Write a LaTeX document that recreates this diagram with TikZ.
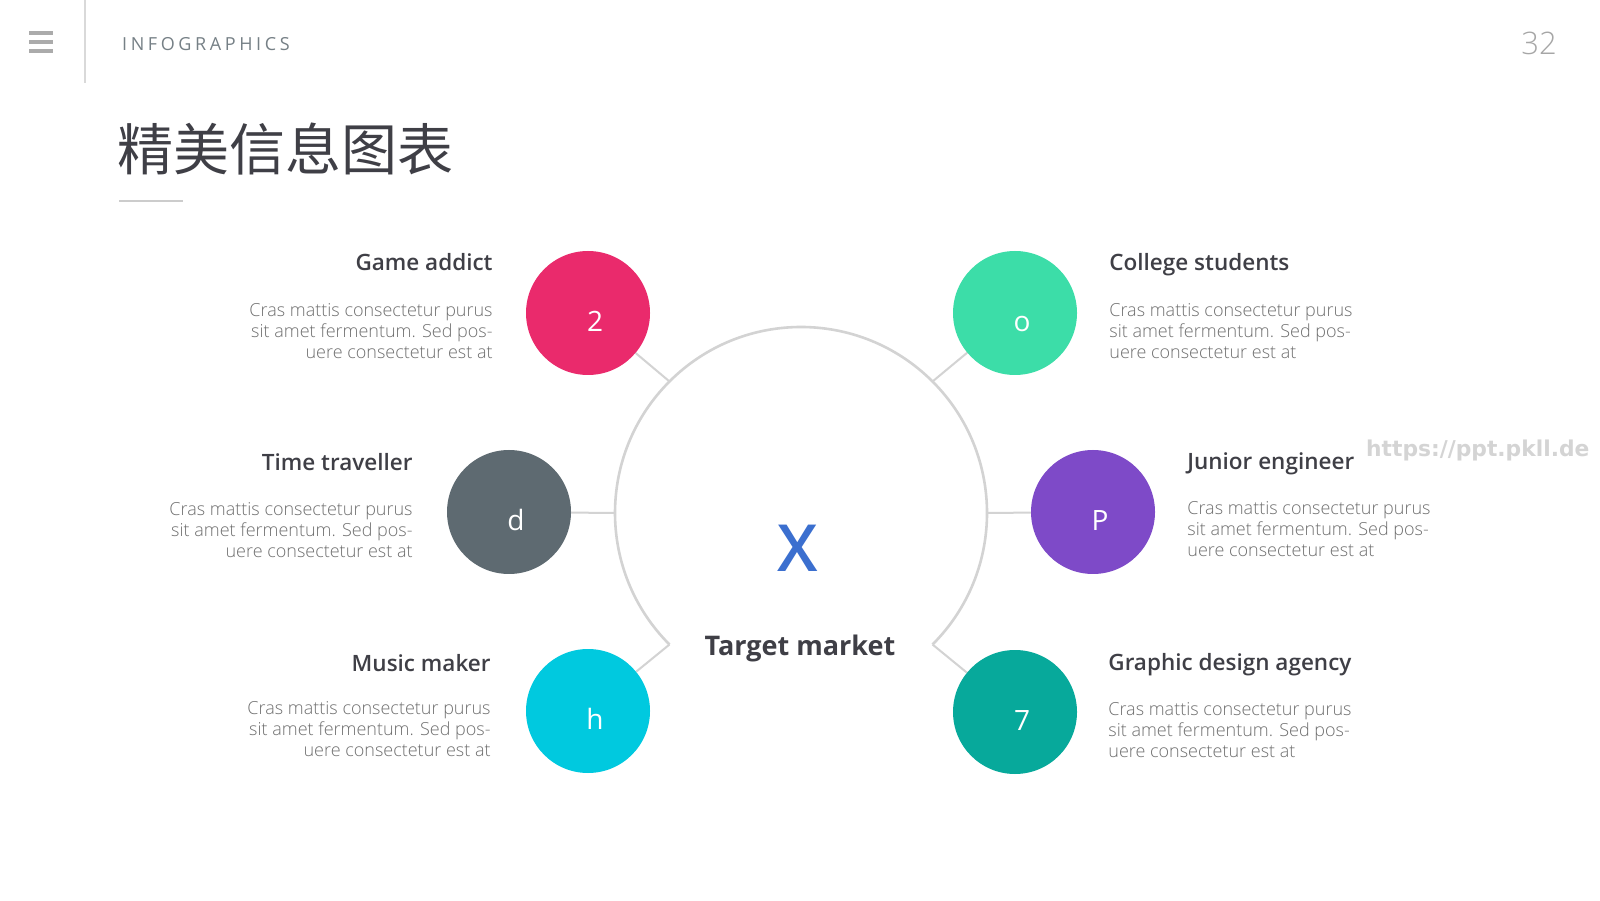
\documentclass[tikz,border=0pt]{standalone}
\usepackage{fontspec}
\setmainfont{Open Sans}
\newfontfamily\headfont{Open Sans Semibold}
\newfontfamily\lightfont{Open Sans Light}
\newfontfamily\cjkfont{Noto Sans CJK SC}
\newfontfamily\markfont{DejaVu Sans}
\usetikzlibrary{positioning, calc}
\definecolor{pinkc}{RGB}{234,42,108}
\definecolor{slatec}{RGB}{94,106,113}
\definecolor{cyanc}{RGB}{0,201,223}
\definecolor{mintc}{RGB}{60,221,168}
\definecolor{violetc}{RGB}{126,74,200}
\definecolor{tealc}{RGB}{7,169,155}
\definecolor{bluec}{RGB}{59,111,207}
\definecolor{ink}{RGB}{63,63,70}
\definecolor{muted}{RGB}{112,112,112}
\definecolor{lineg}{RGB}{211,211,211}

\begin{document}
\begin{tikzpicture}[
      x=1pt, y=1pt,
      dot/.style={circle, minimum size=124pt, inner sep=0pt, draw=none},
      num/.style={text=white, inner sep=0pt, font=\fontsize{28}{28}\selectfont,
                  text height=20pt, text depth=0pt, xshift=7pt, yshift=-8.5pt},
      head/.style={inner sep=0pt, text=ink, font=\headfont\fontsize{22.5}{26}\selectfont},
      blurb/.style={inner sep=0pt, text=muted, font=\lightfont\fontsize{18}{20.8}\selectfont},
      link/.style={draw=lineg, line width=2pt},
      ring/.style={draw=lineg, line width=2.6pt}
    ]
    \useasboundingbox (0,0) rectangle (1600,900);
    \fill[white] (0,0) rectangle (1600,900);

    % header
    \foreach \y in {867,858,849}
      \fill[black!33] (29,\y-2) rectangle (53,\y+2);
    \draw[black!15, line width=1.5pt] (85,900) -- (85,817);
    \node[anchor=base west, inner sep=0pt, text=slatec!85,
          font=\fontsize{18}{18}\selectfont\addfontfeature{LetterSpace=20}] (tag) at (122,849) {INFOGRAPHICS};
    \node[anchor=base east, inner sep=0pt, text=black!35,
          font=\lightfont\fontsize{31}{31}\selectfont] (page) at (1557,845) {32};
    \node[anchor=base west, inner sep=0pt, text=ink,
          font=\cjkfont\fontsize{56}{56}\selectfont] (title) at (117,729) {精美信息图表};
    \draw[black!20, line width=2pt] (119,699) -- (183,699);
    \node[anchor=base west, inner sep=0pt, text=black!17,
          font=\markfont\bfseries\fontsize{21.8}{22}\selectfont] (mark) at (1366,443) {https://ppt.pkll.de};

    % ring and hub
    \coordinate (hub) at (801,387);
    \coordinate (knw) at ($(hub)+(135:186)$);
    \coordinate (kw)  at ($(hub)+(180:186)$);
    \coordinate (ksw) at ($(hub)+(225:186)$);
    \coordinate (kne) at ($(hub)+(45:186)$);
    \coordinate (ke)  at ($(hub)+(0:186)$);
    \coordinate (kse) at ($(hub)+(-45:186)$);
    \draw[ring] (ksw) arc[start angle=225, end angle=-45, radius=186];
    \node[anchor=base, inner sep=0pt, text=bluec,
          font=\headfont\fontsize{65}{65}\selectfont] (x) at (798,328) {X};
    \node[anchor=base, inner sep=0pt, text=ink,
          font=\bfseries\fontsize{27}{27}\selectfont] (target) at (800,244) {Target market};

    % circles
    \node[dot, fill=pinkc,   label={[num]center:2}] (c2) at (588,587) {};
    \node[dot, fill=slatec,  label={[num]center:d}] (cd) at (509,388) {};
    \node[dot, fill=cyanc,   label={[num]center:h}] (ch) at (588,189) {};
    \node[dot, fill=mintc,   label={[num]center:o}] (co) at (1015,587) {};
    \node[dot, fill=violetc, label={[num]center:P}] (cp) at (1093,388) {};
    \node[dot, fill=tealc,   label={[num]center:7}] (c7) at (1015,188) {};

    \draw[link] (knw) -- (c2);
    \draw[link] (kw)  -- (cd);
    \draw[link] (ksw) -- (ch);
    \draw[link] (kne) -- (co);
    \draw[link] (ke)  -- (cp);
    \draw[link] (kse) -- (c7);

    % left texts
    \node[head, left=33pt of c2, anchor=base east, yshift=42pt] (t2) {Game addict};
    \node[blurb, align=right, left=33pt of c2, anchor=north east, yshift=9.5pt] (b2)
      {Cras mattis consectetur purus\\sit amet fermentum. Sed pos-\\uere consectetur est at};
    \node[head, left=34pt of cd, anchor=base east, yshift=41pt] (td) {Time traveller};
    \node[blurb, align=right, left=34pt of cd, anchor=north east, yshift=9.5pt] (bd)
      {Cras mattis consectetur purus\\sit amet fermentum. Sed pos-\\uere consectetur est at};
    \node[head, left=35pt of ch, anchor=base east, yshift=40pt] (th) {Music maker};
    \node[blurb, align=right, left=35pt of ch, anchor=north east, yshift=9.5pt] (bh)
      {Cras mattis consectetur purus\\sit amet fermentum. Sed pos-\\uere consectetur est at};

    % right texts
    \node[head, right=32pt of co, anchor=base west, yshift=42pt] (to) {College students};
    \node[blurb, align=left, right=32pt of co, anchor=north west, yshift=9.5pt] (bo)
      {Cras mattis consectetur purus\\sit amet fermentum. Sed pos-\\uere consectetur est at};
    \node[head, right=32pt of cp, anchor=base west, yshift=42pt] (tp) {Junior engineer};
    \node[blurb, align=left, right=32pt of cp, anchor=north west, yshift=10.5pt] (bp)
      {Cras mattis consectetur purus\\sit amet fermentum. Sed pos-\\uere consectetur est at};
    \node[head, right=31pt of c7, anchor=base west, yshift=42pt] (t7) {Graphic design agency};
    \node[blurb, align=left, right=31pt of c7, anchor=north west, yshift=9.5pt] (b7)
      {Cras mattis consectetur purus\\sit amet fermentum. Sed pos-\\uere consectetur est at};
  \end{tikzpicture}
\end{document}
